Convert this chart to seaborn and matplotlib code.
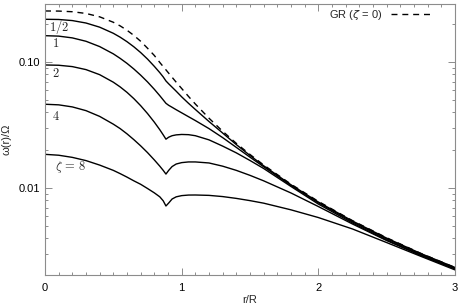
import matplotlib
matplotlib.use("Agg")
import matplotlib.pyplot as plt
import seaborn as sns
from matplotlib.ticker import FixedLocator, MultipleLocator, NullFormatter, FixedFormatter

# ---------- data ----------
r_over_R = [0, 0.1, 0.2, 0.3, 0.4, 0.5, 0.55, 0.6, 0.65, 0.7, 0.75, 0.8, 0.84, 0.865,
            0.885, 0.905, 0.93, 0.96, 1.0, 1.05, 1.1, 1.2, 1.3, 1.4, 1.5, 1.6, 1.8, 2.0,
            2.25, 2.5, 2.75, 3.0]

omega_gr = [0.2540, 0.2535, 0.2505, 0.2427, 0.2282, 0.2066, 0.1934, 0.1785, 0.1626,
            0.1460, 0.1286, 0.1126, 0.0991, 0.0919, 0.0866, 0.0815, 0.0756, 0.0691,
            0.0616, 0.0533, 0.0464, 0.0358, 0.0282, 0.0226, 0.01845, 0.01523, 0.01072,
            0.00783, 0.00551, 0.00403, 0.00303, 0.00234]
omega_half = [0.2182, 0.2174, 0.2131, 0.2038, 0.1889, 0.1689, 0.1573, 0.1449, 0.1320,
              0.1188, 0.1055, 0.0923, 0.0823, 0.0761, 0.0707, 0.0671, 0.0631, 0.0586,
              0.0529, 0.0470, 0.0420, 0.0337, 0.0273, 0.0221, 0.01811, 0.01501, 0.01060,
              0.00774, 0.00547, 0.00400, 0.00302, 0.00234]
omega_1 = [0.1617, 0.1604, 0.1553, 0.1460, 0.1325, 0.1160, 0.1068, 0.0975, 0.0880,
           0.0786, 0.0695, 0.0607, 0.0540, 0.0500, 0.0470, 0.0453, 0.0437, 0.0418,
           0.0395, 0.0368, 0.0343, 0.0296, 0.0251, 0.0210, 0.01756, 0.01474, 0.01047,
           0.00763, 0.00539, 0.00395, 0.00299, 0.00232]
omega_2 = [0.0947, 0.0942, 0.0919, 0.0870, 0.0793, 0.0691, 0.0634, 0.0574, 0.0512,
           0.0450, 0.0390, 0.0333, 0.0290, 0.0264, 0.0244, 0.0253, 0.0260, 0.0264,
           0.0266, 0.0265, 0.0260, 0.0241, 0.0215, 0.0190, 0.01653, 0.01428, 0.01028,
           0.00746, 0.00528, 0.00387, 0.00294, 0.00230]
omega_4 = [0.0462, 0.0457, 0.0440, 0.0411, 0.0370, 0.0321, 0.0296, 0.0269, 0.0242,
           0.0216, 0.0191, 0.0167, 0.0149, 0.0138, 0.0129, 0.0138, 0.0148, 0.0155,
           0.0159, 0.0161, 0.0161, 0.0158, 0.0149, 0.0138, 0.0126, 0.0114, 0.00913,
           0.00713, 0.00518, 0.00383, 0.00291, 0.00228]
omega_8 = [0.0185, 0.0182, 0.0175, 0.0165, 0.0152, 0.0138, 0.0130, 0.0122, 0.0114,
           0.0107, 0.00991, 0.00915, 0.00851, 0.00791, 0.00720, 0.00760, 0.00818,
           0.00851, 0.00870, 0.00879, 0.00880, 0.00874, 0.00855, 0.00827, 0.00794,
           0.00758, 0.00671, 0.00583, 0.00473, 0.00369, 0.00287, 0.00224]

solid_curves = {"1/2": omega_half, "1": omega_1, "2": omega_2, "4": omega_4, "8": omega_8}

# curve labels: (text, r, omega)
curve_labels = [(r"$1/2$", 0.102, 0.190), (r"$1$", 0.08, 0.139), (r"$2$", 0.08, 0.0803),
                (r"$4$", 0.08, 0.0366), (r"$\zeta\,=\,8$", 0.185, 0.0147)]
# -----------------------------------------------

sns.set_style("ticks")
plt.rcParams["font.family"] = ["Liberation Sans", "DejaVu Sans"]
plt.rcParams["font.size"] = 8

GREY = "#8c8c8c"

fig = plt.figure(figsize=(4.63, 3.06), dpi=100)
ax = fig.add_axes([0.0972, 0.1013, 0.8855, 0.8857])

for name, vals in solid_curves.items():
    sns.lineplot(x=r_over_R, y=vals, color="black", linewidth=1.0, ax=ax)

sns.lineplot(x=r_over_R, y=omega_gr, color="black", linewidth=1.0, ax=ax,
             label=r"GR ($\zeta$ = 0)")
ax.lines[-1].set_dashes((4.3, 3.5))

ax.set_yscale("log")
ax.set_xlim(0, 3)
ax.set_ylim(0.00204, 0.2886)

ax.xaxis.set_major_locator(MultipleLocator(1))
ax.xaxis.set_minor_locator(MultipleLocator(0.1))
ax.yaxis.set_major_locator(FixedLocator([0.01, 0.1]))
ax.yaxis.set_major_formatter(FixedFormatter(["0.01", "0.10"]))
ax.yaxis.set_minor_formatter(NullFormatter())

for s in ax.spines.values():
    s.set_color(GREY)
    s.set_linewidth(0.8)
ax.tick_params(which="both", direction="in", top=True, right=True, color=GREY,
               labelcolor="black", labelsize=8, width=0.7)
ax.tick_params(which="major", length=5)
ax.tick_params(which="minor", length=2.5)
ax.tick_params(axis="x", which="major", pad=6)
ax.tick_params(axis="y", which="major", pad=3.5)

ax.set_xlabel("r/R", fontsize=8, labelpad=1)
ax.set_ylabel("ω(r)/Ω", fontsize=8, labelpad=5)

for txt, xr, yv in curve_labels:
    ax.text(xr, yv, txt, fontsize=9, math_fontfamily="cm", ha="center", va="center")

leg = ax.legend(loc="upper right", bbox_to_anchor=(0.944, 0.985), frameon=False,
                markerfirst=False, handlelength=3.7, handletextpad=0.8,
                borderpad=0, borderaxespad=0, fontsize=8)
for t in leg.get_texts():
    t.set_math_fontfamily("dejavusans")

fig.savefig("out.png", dpi=100)
